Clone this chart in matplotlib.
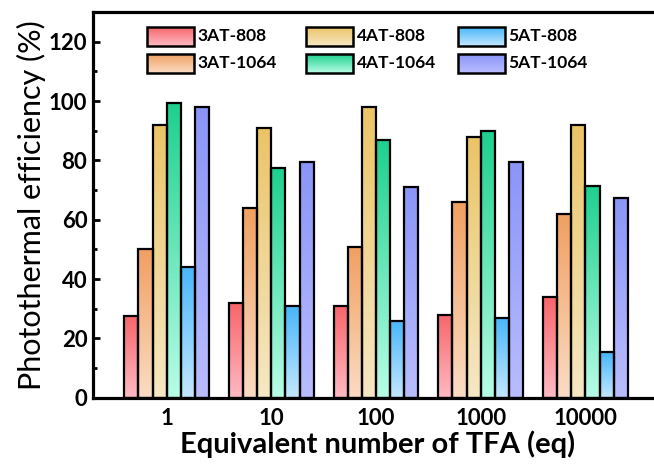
import matplotlib.pyplot as plt
import numpy as np
from matplotlib.colors import LinearSegmentedColormap
from matplotlib.ticker import MultipleLocator

plt.rcParams['font.family'] = ['Lato', 'DejaVu Sans']
plt.rcParams['font.weight'] = 'bold'

groups = ['1', '10', '100', '1000', '10000']
series = ['3AT-808', '3AT-1064', '4AT-808', '4AT-1064', '5AT-808', '5AT-1064']
at3_808 = [27.5, 32, 31, 28, 34]
at3_1064 = [50, 64, 51, 66, 62]
at4_808 = [92, 91, 98, 88, 92]
at4_1064 = [99.5, 77.5, 87, 90, 71.5]
at5_808 = [44, 31, 26, 27, 15.5]
at5_1064 = [98, 79.5, 71, 79.5, 67.5]
values = [at3_808, at3_1064, at4_808, at4_1064, at5_808, at5_1064]

# (top colour, bottom colour) for each series gradient
grads = [('#f7666b', '#ffbac3'),
         ('#f0a062', '#fbdcc4'),
         ('#ebc466', '#f6e8c4'),
         ('#1dd08e', '#b8fde6'),
         ('#48b6fa', '#c4e8ff'),
         ('#8a95f7', '#b9bdff')]

fig = plt.figure(figsize=(6.54, 4.68), dpi=100)
ax = fig.add_axes([0.142, 0.15, 0.87, 0.824])

x = np.arange(len(groups))
w = 0.135
grad = np.linspace(0, 1, 256).reshape(-1, 1)
for i, (name, vals) in enumerate(zip(series, values)):
    cmap = LinearSegmentedColormap.from_list(name, [grads[i][1], grads[i][0]])
    pos = x + (i - 2.5) * w
    bars = ax.bar(pos, vals, w, facecolor='none', edgecolor='black',
                  linewidth=1.6, zorder=3)
    for b in bars:
        bx, by = b.get_x(), b.get_y()
        im = ax.imshow(grad, cmap=cmap, aspect='auto', origin='lower',
                       extent=[bx, bx + b.get_width(), by, by + b.get_height()],
                       zorder=2)
        im.set_clip_path(b)

ax.set_xticks(x)
ax.set_xticklabels(groups)
ax.yaxis.set_major_locator(MultipleLocator(20))
ax.yaxis.set_minor_locator(MultipleLocator(10))
ax.set_yticks([0, 20, 40, 60, 80, 100, 120])
ax.tick_params(axis='both', direction='in', labelsize=16, width=2)
ax.tick_params(axis='y', which='major', length=5, pad=4)
ax.tick_params(axis='y', which='minor', direction='in', length=3, width=2)
ax.tick_params(axis='x', length=4, pad=7)
for s in ['left', 'bottom', 'top']:
    ax.spines[s].set_linewidth(2.3)
ax.spines['right'].set_visible(False)

ax.set_xlabel('Equivalent number of TFA (eq)', fontsize=21, fontweight='bold', labelpad=1)
ax.set_ylabel('Photothermal efficiency (%)', fontsize=22, fontweight='normal', labelpad=2)

# legend drawn by hand: gradient boxes in 3 columns x 2 rows (axes fraction)
col_x = [0.095, 0.375, 0.641]
row_y = [0.913, 0.843]
box_w, box_h = 0.083, 0.049
for i, name in enumerate(series):
    cx = col_x[i // 2]
    cy = row_y[i % 2]
    cmap = LinearSegmentedColormap.from_list(name + '_leg', [grads[i][1], grads[i][0]])
    im = ax.imshow(grad, cmap=cmap, aspect='auto', origin='lower',
                   extent=[cx, cx + box_w, cy, cy + box_h],
                   transform=ax.transAxes, zorder=4)
    rect = plt.Rectangle((cx, cy), box_w, box_h, transform=ax.transAxes,
                         facecolor='none', edgecolor='black', linewidth=1.8, zorder=5)
    ax.add_patch(rect)
    im.set_clip_path(rect)
    ax.text(cx + box_w + 0.006, cy + box_h / 2, name, transform=ax.transAxes,
            fontsize=12.5, fontweight='bold', va='center', ha='left', zorder=5)

ax.set_xlim(-0.705, 4.73)
ax.set_ylim(0, 130)

fig.savefig('out.png', dpi=100)
